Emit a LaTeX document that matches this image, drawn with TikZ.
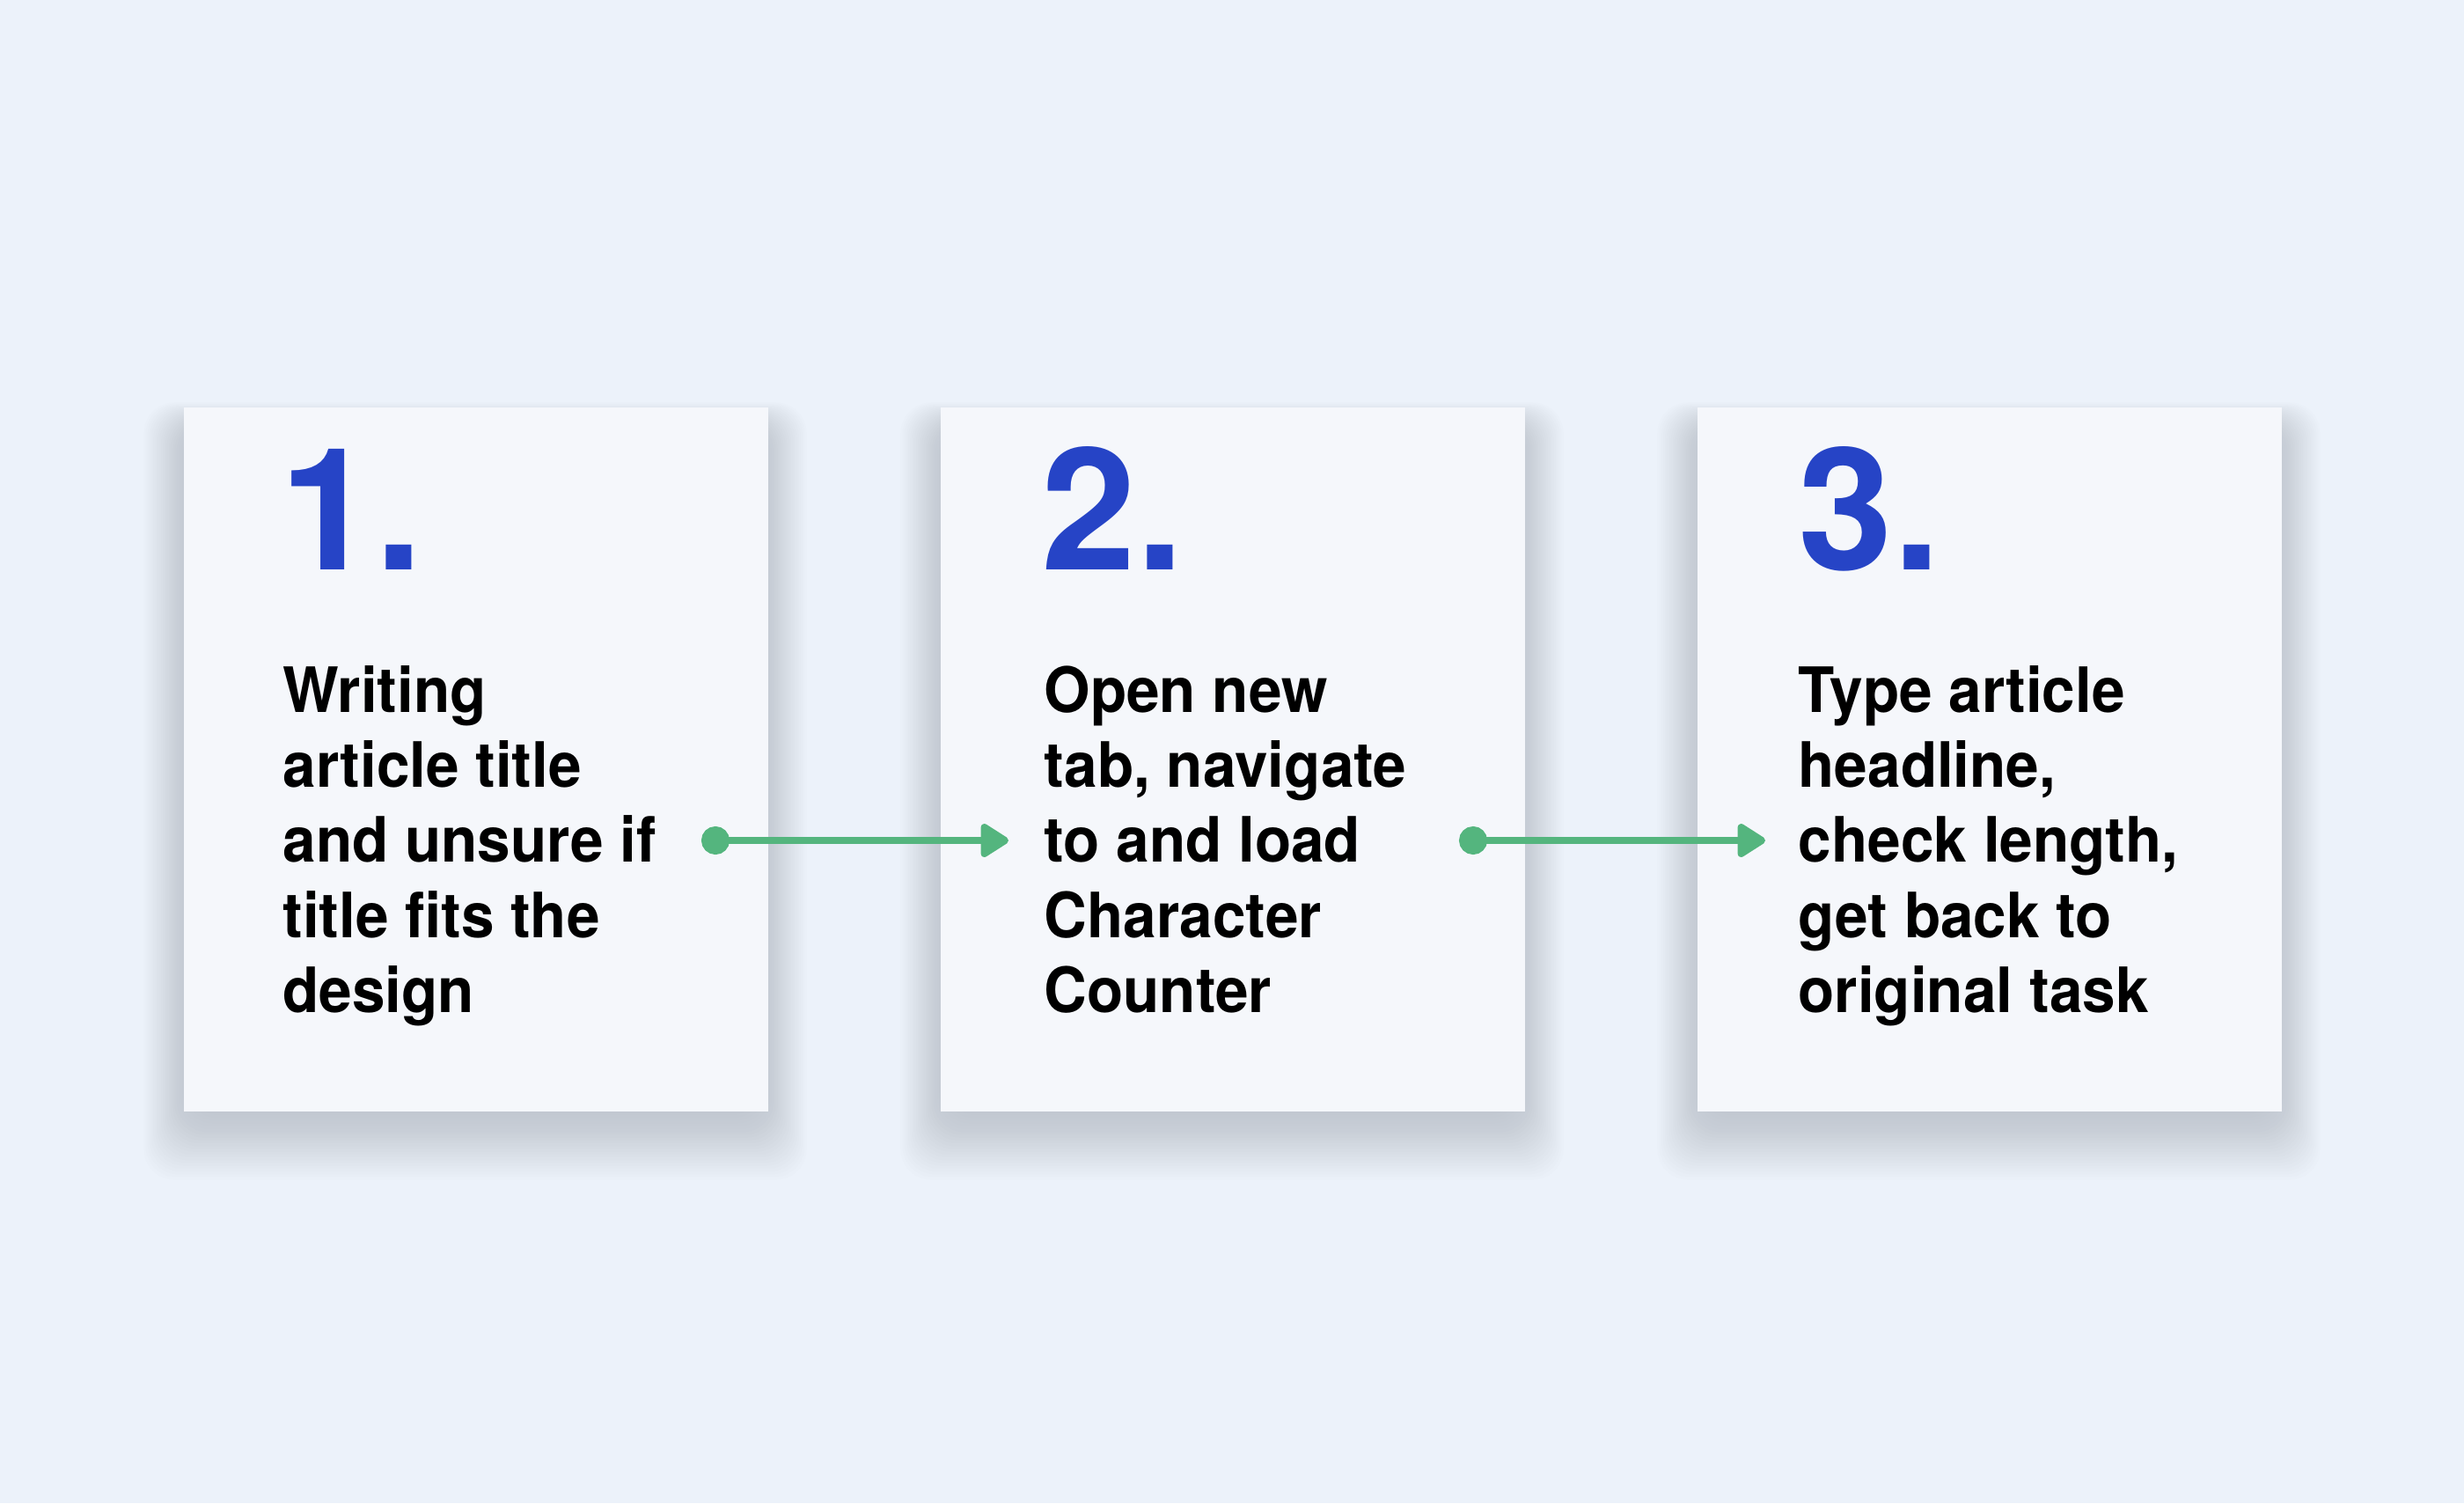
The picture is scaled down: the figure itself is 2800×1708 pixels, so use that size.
\documentclass[tikz,border=0pt]{standalone}
\usepackage{fontspec}
\setmainfont{TeX Gyre Heros}
\newfontfamily\bodyfont{TeX Gyre Heros}[FakeStretch=0.95]
\usetikzlibrary{arrows.meta}
\definecolor{bgc}{HTML}{ECF2FA}
\definecolor{boxc}{HTML}{F5F7FB}
\definecolor{numc}{HTML}{2644C6}
\definecolor{grn}{HTML}{54B57E}
\definecolor{shadowc}{HTML}{737A84}
\newcommand\cardshade[2]{%
  \foreach \i in {1,...,24}{%
    \fill[shadowc, opacity=0.010, rounded corners=10pt]
      (#1+8-2.2*\i, #2+24-1.2*\i) rectangle (#1+656+2.2*\i, #2+802+3.2*\i);
  }}
\begin{document}
\begin{tikzpicture}[x=0.01cm,y=-0.01cm,
  card/.style={fill=boxc, draw=none, minimum width=6.64cm, minimum height=8cm,
    inner sep=0, anchor=north west},
  num/.style={anchor=base west, inner sep=0, text=numc,
    font=\fontsize{55}{60}\selectfont\bfseries},
  body/.style={anchor=base west, inner sep=0,
    font=\bodyfont\fontsize{20.2}{24.3}\selectfont\bfseries},
  flow/.style={draw=grn, line width=2.28pt,
    {Circle[length=9.1pt]}-{Triangle[length=10pt,width=12pt,round]}}
]
\useasboundingbox (0,0) rectangle (2800,1708);
\fill[bgc] (0,0) rectangle (2800,1708);

\cardshade{208}{462}
\cardshade{1068}{462}
\cardshade{1928}{462}

\node[card] (c1) at (208,462) {};
\node[card] (c2) at (1068,462) {};
\node[card] (c3) at (1928,462) {};

\node[num] (n1) at (318,647) {1.};
\node[num] (n2) at (1183,647) {2.};
\node[num] (n3) at (2043,647) {3.};

\node[body] (t1) at (321,809) {\parbox[t]{6cm}{Writing\\article title\\and unsure if\\title fits the\\design}};
\node[body] (t2) at (1186,809) {\parbox[t]{6cm}{Open new\\tab, navigate\\to and load\\Character\\Counter}};
\node[body] (t3) at (2043,809) {\parbox[t]{6cm}{Type article\\headline,\\check length,\\get back to\\original task}};

\coordinate (a1s) at (797,955);
\coordinate (a1e) at (1146,955);
\coordinate (a2s) at (1658,955);
\coordinate (a2e) at (2006,955);
\draw[flow] (a1s) -- (a1e);
\draw[flow] (a2s) -- (a2e);
\end{tikzpicture}
\end{document}
